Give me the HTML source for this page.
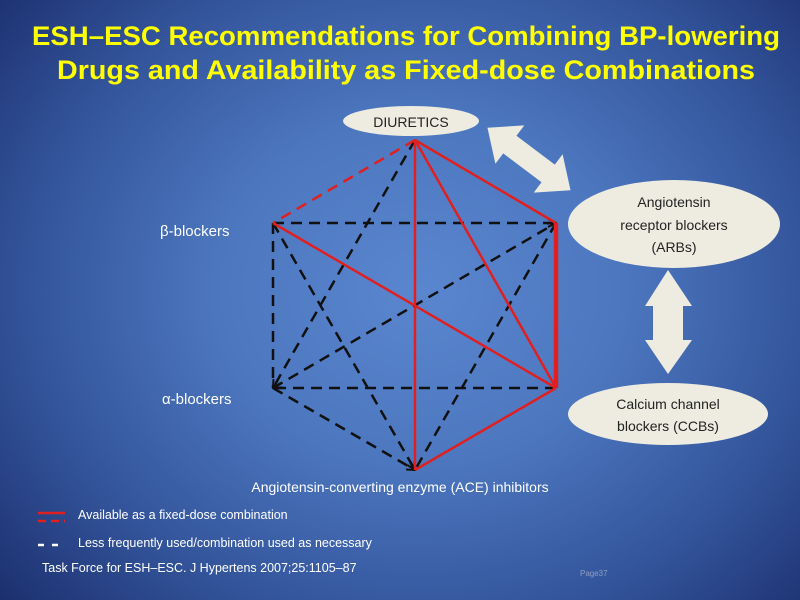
<!DOCTYPE html>
<html><head><meta charset="utf-8"><style>
html,body{margin:0;padding:0;}
body{width:800px;height:600px;overflow:hidden;background:radial-gradient(ellipse 560px 480px at 420px 290px,#5a86cf 0%,#4d78c0 35%,#33549b 70%,#1b2e6c 100%);font-family:"Liberation Sans",sans-serif;position:relative;}
svg{position:absolute;left:0;top:0;}
</style></head><body>
<svg width="800" height="600" viewBox="0 0 800 600">
<defs>
<marker id="ar" markerWidth="10" markerHeight="10" refX="9" refY="5" orient="auto-start-reverse" markerUnits="userSpaceOnUse">
<path d="M1,1 L9,5 L1,9" fill="none" stroke="#111" stroke-width="2"/>
</marker>
</defs>
<text x="32" y="45" textLength="748" lengthAdjust="spacingAndGlyphs" font-size="27" font-weight="bold" fill="#ffff00" font-family="Liberation Sans, sans-serif">ESH–ESC Recommendations for Combining BP-lowering</text>
<text x="57" y="79" textLength="698" lengthAdjust="spacingAndGlyphs" font-size="27" font-weight="bold" fill="#ffff00" font-family="Liberation Sans, sans-serif">Drugs and Availability as Fixed-dose Combinations</text>

<g stroke="#111" stroke-width="2.5" stroke-dasharray="11,7" fill="none">
<line x1="273" y1="223" x2="556" y2="223" marker-end="url(#ar)"/>
<line x1="273" y1="223" x2="273" y2="388"/>
<line x1="556" y1="388" x2="273" y2="388"/>
<line x1="273" y1="388" x2="556" y2="223" marker-start="url(#ar)" marker-end="url(#ar)"/>
<line x1="273" y1="223" x2="415" y2="470" marker-end="url(#ar)"/>
<line x1="273" y1="388" x2="415" y2="470" marker-end="url(#ar)"/>
<line x1="556" y1="223" x2="415" y2="470"/>
<line x1="415" y1="140" x2="273" y2="388" marker-end="url(#ar)"/>
<line x1="415" y1="140" x2="273" y2="223" stroke="#e02020"/>
</g>
<g stroke="#e02020" stroke-width="2.5" fill="none">
<line x1="273" y1="223" x2="556" y2="388"/>
<line x1="415" y1="140" x2="415" y2="470"/>
<line x1="415" y1="140" x2="556" y2="388"/>
<line x1="415" y1="140" x2="556" y2="223"/>
<line x1="556" y1="223" x2="556" y2="388" stroke-width="4.5"/>
<line x1="556" y1="388" x2="415" y2="470"/>
</g>

<ellipse cx="411" cy="121" rx="68" ry="15" fill="#eeece1"/>
<text x="411" y="127" text-anchor="middle" font-size="14" fill="#222">DIURETICS</text>
<ellipse cx="674" cy="224" rx="106" ry="44" fill="#eeece1"/>
<text x="674" y="207" text-anchor="middle" font-size="14" fill="#222">Angiotensin</text>
<text x="674" y="230" text-anchor="middle" font-size="14" fill="#222">receptor blockers</text>
<text x="674" y="252" text-anchor="middle" font-size="14" fill="#222">(ARBs)</text>
<ellipse cx="668" cy="414" rx="100" ry="31" fill="#eeece1"/>
<text x="668" y="409" text-anchor="middle" font-size="14" fill="#222">Calcium channel</text>
<text x="668" y="431" text-anchor="middle" font-size="14" fill="#222">blockers (CCBs)</text>

<polygon fill="#eeece1" points="668,270 692,306 683,306 683,340 692,340 668,374 645,340 653,340 653,306 645,306"/>
<g transform="translate(529,159) rotate(37)">
<polygon fill="#eeece1" points="-52,0 -24,-24 -24,-11 24,-11 24,-24 52,0 24,24 24,11 -24,11 -24,24"/>
</g>

<text x="160" y="236" font-size="15" fill="#fff">β-blockers</text>
<text x="162" y="404" font-size="15" fill="#fff">α-blockers</text>
<text x="400" y="492" text-anchor="middle" font-size="14" fill="#fff">Angiotensin-converting enzyme (ACE) inhibitors</text>

<line x1="38" y1="513" x2="65" y2="513" stroke="#e02020" stroke-width="2.5"/>
<line x1="38" y1="521" x2="65" y2="521" stroke="#e02020" stroke-width="2.5" stroke-dasharray="8,5"/>
<text x="78" y="519" font-size="12.5" fill="#fff">Available as a fixed-dose combination</text>
<line x1="38" y1="545" x2="65" y2="545" stroke="#fff" stroke-width="2.5" stroke-dasharray="6,8"/>
<text x="78" y="547" font-size="12.5" fill="#fff">Less frequently used/combination used as necessary</text>
<text x="42" y="572" font-size="12.5" fill="#fff">Task Force for ESH–ESC. J Hypertens 2007;25:1105–87</text>
<text x="580" y="576" font-size="8" fill="#8fa0c0">Page37</text>
</svg>
</body></html>
